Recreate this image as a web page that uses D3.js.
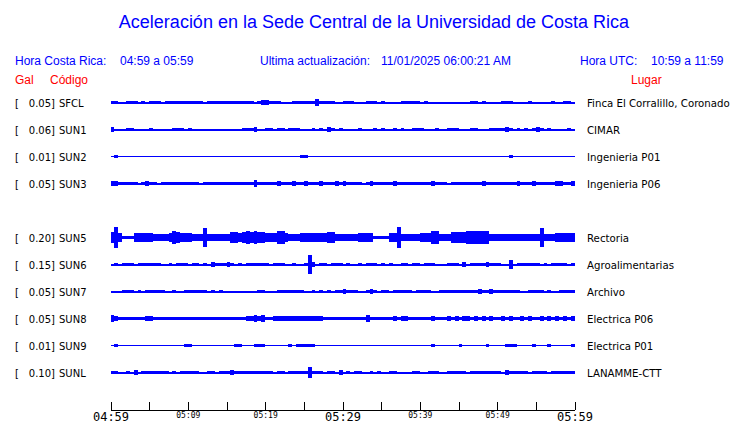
<!DOCTYPE html>
<html><head><meta charset="utf-8">
<script src="https://cdn.jsdelivr.net/npm/d3@7"></script>
<style>body{margin:0;background:#fff}svg{display:block}</style>
</head><body>
<svg id="c" width="740" height="423"></svg>
<script>
// ---------- data ----------
const titleText = "Aceleración en la Sede Central de la Universidad de Costa Rica";
const localRange = "04:59 a 05:59";
const utcRange = "10:59 a 11:59";
const lastUpdate = "11/01/2025 06:00:21 AM";

const codes  = ["SFCL","SUN1","SUN2","SUN3","SUN4","SUN5","SUN6","SUN7","SUN8","SUN9","SUNL"];
const gals   = [0.05, 0.06, 0.01, 0.05, null, 0.20, 0.15, 0.05, 0.05, 0.01, 0.10];
const places = ["Finca El Corralillo, Coronado","CIMAR","Ingenieria P01","Ingenieria P06",null,
                "Rectoria","Agroalimentarias","Archivo","Electrica P06","Electrica P01","LANAMME-CTT"];

const tickLabels = ["04:59","","05:09","","05:19","","05:29","","05:39","","05:49","","05:59"];

// envelope of each trace, one value per half minute (relative amplitude)
const envSFCL = [2,2,1,1,1.5,1.5,1.5,1,2,1, 1.5,1.5,2,1,1.5,2,2,2,2,2, 2,2,1.5,1.5,1,2,2,2,1.5,2, 2,2,2,2,2,2,2,1,2,3,
  3,2,2,2,1,1,1,1.5,2,2, 2,2,2,4,2,2,1.5,1.5,1,1, 2,2,1.5,1,1,1,2,2,1.5,1, 1.5,1,1,1,1,2,2,2,2,1.5,
  1,1.5,1,1,1,1,1,1,1,1, 1,1,1,2,2,1,2,1,1,1, 1,2,2,1.5,1,1,1,1,1.5,1, 1,1,1,1,1.5,1,1,2,1.5,1];
const envSUN1 = [3,1,1,1,1.5,1.5,1,1,1,1, 1.5,1,1,1,1,1,2,2,1.5,1, 1.5,1,1,1,1,1,1,1,1,1, 1,1,1,1,1.5,1.5,2,3,1,1,
  2,1.5,1,1.5,1.5,1,1.5,1.5,2,1, 1,1,1.5,1,1.5,1,3,2,1,1.5, 1,1,1,1,1.5,1,1,1,1.5,1, 1.5,1,1,1.5,1,1.5,1,1,1.5,2,
  1.5,1,1,1,1.5,1,1,1.5,2,2, 1,1,1,2,1.5,1,1,1,1.5,1.5, 1.5,2,2.5,2,1,2,1,1.5,1,2, 3,2,1,1.5,1,1,1,1,1.5,1];
const envSUN2 = [0.6,1.5,0.6,0.6,0.6,0.6,0.6,0.6,0.6,0.6, 0.6,0.6,0.6,0.6,0.6,0.6,0.6,0.6,0.6,0.6,
  0.6,0.6,0.6,0.6,0.6,0.6,0.6,0.6,0.6,0.6, 0.6,0.6,0.6,0.6,0.6,0.6,0.6,0.6,0.6,0.6,
  0.6,0.6,0.6,0.6,0.6,0.6,0.6,0.6,0.6,2, 2,0.6,0.6,0.6,0.6,0.6,0.6,0.6,0.6,0.6,
  0.6,0.6,0.6,0.6,0.6,0.6,0.6,0.6,0.6,0.6, 0.6,0.6,0.6,0.6,0.6,0.6,0.6,0.6,0.6,0.6,
  0.6,0.6,0.6,0.6,0.6,0.6,0.6,0.6,0.6,0.6, 0.6,0.6,0.6,0.6,0.6,0.6,0.6,0.6,0.6,0.6,
  0.6,0.6,0.6,1.5,0.6,0.6,0.6,0.6,0.6,0.6, 0.6,0.6,0.6,0.6,0.6,0.6,0.6,0.6,0.6,0.6];
const envSUN3 = [2.5,2.5,2,1.5,2,2,2,1,1.5,2.5, 2,2,1,2,2,2,2,2,2,2, 2,2,1.5,1,2,2,2,2,2,2, 2,2,2,2,2,2,2,3.5,2,2,
  2,2,2,2.5,2,2,2,2.5,2,2, 2.5,2,2,2,2.5,2,2,2,2.5,2, 2.5,2,2,2,2,1,2,2.5,2,2, 2,2,2,3,2,2,2,2,2,2,
  2,2,2,3,2,2,2,1,2,2, 2,2,2,2,2,2,3,2,2,2, 2,2,2,2,2,3,2,2,2,2.5, 2,2,2,2,2,2.5,2.5,2,2,2.5];
const envSUN5 = [6,11,5,2,2,2,5,5,5,5, 5,3.5,3.5,4,4,5,6.5,6,5,5, 5,3.5,3.5,3.5,10,4,4,4,3.5,4, 4,6,6,5,6,6.5,6,6.5,6,6,
  5,5,5,6.5,6.5,5,4,4,4,5, 5,5,5,5,5,5,6,6,4,4, 4,4,4,4,5,5,5,5,2,2, 2,2,5,5,11,4,4,4,4,4,
  5,5,5,6.5,6.5,4,4,4,6,6, 6,6,6.5,6.5,6.5,6.5,6.5,6.5,4,4, 4,4,4,4,4,4,4,4,3.5,3.5, 4,10,4,4,4,5,5,5,5,5];
const envSUN6 = [1,1.5,1,2,1.5,1.5,1,1.5,2,2, 1.5,1.5,1.5,1,1,1.5,1,2,2,1.5, 1,2,2,1,1.5,1,3,2,2,2, 3,2,1,1.5,1,2,2,2,1.5,2,
  2,1,2,2,2,1,1,1.5,1,1, 1.5,9.5,3,1,1.5,1.5,1,2,2,2, 1,1.5,1,1,1.5,1,2,2,2,1, 1.5,1,1.5,1,1,2,2,1,2,2,
  1,1.5,2,2,1,1,1,2,2,2, 1,3,1,2,2,2,2,3,2,2, 2,1,1,5,1,2,2,2,2,2, 2,1,1.5,1,1.5,1.5,2,2,1,2];
const envSUN7 = [1,1,1,2,2,1.5,1,1.5,1,2, 2,2,1.5,1.5,1,1,2,1,1,2, 2,2,2,2,1.5,1,1.5,1,1.5,1, 1,1,1,1,1,1,1,1,2,2,
  1,1,1,1.5,2,2,2,1.5,2,1.5, 1,1,2,1,2,1,1.5,1,2,2, 3,2,2,1.5,1,1,2,3,2,1, 2,1.5,1,2,2,2,2,2,1,1.5,
  2,2,2,1,1,1.5,2,2,1.5,2, 2,2,2,2,1.5,3,2,2,3,2, 2,2,2,2,2,2,1,1,2,2, 2,2,1,1.5,1,1,2,2,2,2];
const envSUN8 = [4,3,2,2,2,2,2,2,2,3, 3,2,2,2,2,2,2,2,2,2, 2,2,2,2,2,2,2,2,2,2, 2,2,2,2,2,3,3,4,3,4,
  2,2,2.5,2.5,2.5,2.5,3,2.5,2.5,3, 2.5,3,2.5,3,2.5,2,2,2,2,2, 2,2,2,2,2,2,4,2,2,2, 2,2,2,3,2,3,3,2,2,2,
  2,2,2,3,2,2,2,3,2,3, 2,3,3,2,3,2,3,2,3,2, 2,3,2,3,2,2,3,2,3,2, 2,3,2,3,2,3,2,3,2,3];
const envSUN9 = [0.6,1.5,0.6,0.6,0.6,0.6,0.6,0.6,0.6,0.6, 0.6,0.6,0.6,0.6,0.6,0.6,0.6,0.6,0.6,1.5,
  1.5,0.6,0.6,0.6,0.6,0.6,0.6,0.6,0.6,0.6, 0.6,0.6,1.5,1.2,0.6,0.6,0.6,1.5,2,1.5,
  0.6,0.6,0.6,0.6,0.6,0.6,1.5,0.6,2,2, 1.5,1.5,1.2,0.6,0.6,0.6,0.6,0.6,0.6,0.6,
  0.6,0.6,0.6,0.6,0.6,0.6,0.6,0.6,0.6,0.6, 0.6,0.6,0.6,0.6,0.6,0.6,0.6,0.6,0.6,0.6,
  0.6,0.6,0.6,1.5,0.6,0.6,0.6,0.6,0.6,0.6, 1.2,0.6,0.6,0.6,0.6,0.6,0.6,1.2,0.6,0.6,
  0.6,0.6,2,1.5,1.2,0.6,0.6,0.6,0.6,1.2, 0.6,0.6,0.6,1.2,0.6,0.6,0.6,0.6,0.6,1.5];
const envSUNL = [2,2,1,1,1.5,1,3,1,2,2, 1.5,1.5,1.5,2,1.5,1,1.5,1,2,2, 2,2,2,1,1,2,2,1,2,2, 2,3,2,2,2,2,2,2,2,2,
  2,1.5,1,1.5,1.5,1,1.5,2,2,2, 2,6,2,2,2,1,2,2,1,3, 1,1.5,1,1.5,2,1,1,2,1,1.5, 1,1,2,2,1,1,1,1,2,2,
  1,1,2,2,2,1,1,2,2,2, 2,2,1,2,1.5,2,2,2,2,2, 2,1,3,2,2,2,2,2,1,2, 2,2,2,1,2,2,2,2,2,2];

const envelopes = [envSFCL, envSUN1, envSUN2, envSUN3, null, envSUN5, envSUN6, envSUN7, envSUN8, envSUN9, envSUNL];

// ---------- chart ----------
const svg = d3.select("#c");
const BLUE = "#0000ff", RED = "#ff0000";
const SANS = "'Liberation Sans', Arial, Helvetica, sans-serif";
const DJV = "'DejaVu Sans', sans-serif";
const MONO = "'DejaVu Sans Mono', monospace";

const t0 = new Date(2025, 10, 1, 4, 59);
const t1 = new Date(2025, 10, 1, 5, 59);
const x = d3.scaleTime().domain([t0, t1]).range([110.5, 574.5]);
const y = d3.scalePoint().domain(codes).range([102.5, 372.5]);
const amp = d3.scaleLinear().domain([0, 1, 2, 12]).range([0, 1, 1.8, 12]);

// title + header
svg.append("text").attr("x", 374).attr("y", 28).attr("text-anchor", "middle")
  .attr("font-family", SANS).attr("font-size", 18).attr("fill", BLUE).text(titleText);

const hdr = [
  {t: "Hora Costa Rica:", x: 15}, {t: localRange, x: 120},
  {t: "Ultima actualización:", x: 260}, {t: lastUpdate, x: 381},
  {t: "Hora UTC:", x: 580}, {t: utcRange, x: 651}
];
svg.selectAll("text.hdr").data(hdr).join("text").attr("class", "hdr")
  .attr("x", d => d.x).attr("y", 65).attr("font-family", SANS).attr("font-size", 12)
  .attr("fill", BLUE).text(d => d.t);

const sub = [{t: "Gal", x: 15}, {t: "Código", x: 50}, {t: "Lugar", x: 631}];
svg.selectAll("text.sub").data(sub).join("text").attr("class", "sub")
  .attr("x", d => d.x).attr("y", 84).attr("font-family", SANS).attr("font-size", 12)
  .attr("fill", RED).text(d => d.t);

// rows
const rows = codes.map((c, i) => ({code: c, gal: gals[i], place: places[i], env: envelopes[i]}))
  .filter(d => d.env);

const g = svg.append("g");
rows.forEach(r => {
  const cy = y(r.code);
  g.append("text").attr("x", 15).attr("y", cy + 4).attr("font-family", DJV).attr("font-size", 10)
    .attr("fill", "#000").text("[");
  g.append("text").attr("x", 55).attr("y", cy + 4).attr("text-anchor", "end").attr("font-family", DJV)
    .attr("font-size", 10).attr("fill", "#000").text(r.gal.toFixed(2) + "]");
  g.append("text").attr("x", 59).attr("y", cy + 4).attr("font-family", DJV).attr("font-size", 10)
    .attr("fill", "#000").text(r.code);
  g.append("text").attr("x", 587).attr("y", cy + 4).attr("font-family", DJV).attr("font-size", 10.2)
    .attr("fill", "#000").text(r.place);

  const pts = r.env.map((v, i) => ({t: d3.timeSecond.offset(t0, i * 30), v}));
  pts.push({t: t1, v: r.env[r.env.length - 1]});
  const area = d3.area().curve(d3.curveStepAfter)
    .x(d => x(d.t)).y0(d => cy + amp(d.v)).y1(d => cy - amp(d.v));
  g.append("path").datum(pts).attr("d", area).attr("fill", BLUE)
    .attr("shape-rendering", "crispEdges");
});

// time axis
const tickTimes = tickLabels.map((_, i) => d3.timeMinute.offset(t0, i * 5));
const axis = d3.axisBottom(x).tickValues(tickTimes).tickSize(-8).tickSizeOuter(0)
  .tickFormat((d, i) => tickLabels[i]);
const ax = svg.append("g").attr("transform", "translate(0,409.5)").call(axis);
ax.select(".domain").attr("stroke", "#000").attr("shape-rendering", "crispEdges");
ax.selectAll(".tick line").attr("stroke", "#000").attr("shape-rendering", "crispEdges");
ax.selectAll(".tick text").each(function(d, i) {
  const big = (i * 5) % 30 === 0;
  d3.select(this).attr("dy", 0).attr("y", big ? 11 : 8)
    .attr("font-family", MONO).attr("font-size", big ? 12 : 8).attr("fill", "#000");
});
</script>
</body></html>
